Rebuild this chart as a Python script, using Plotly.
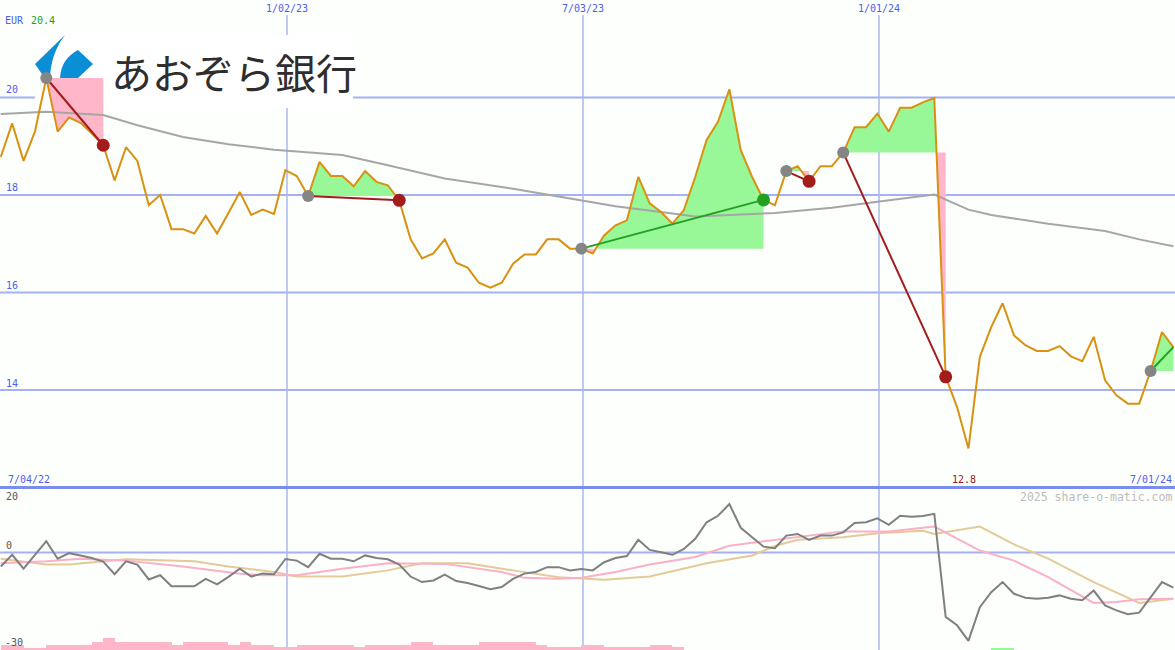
import plotly.graph_objects as go
import pandas as pd

W, H = 1175, 650

# ---------------- data (weekly, index 1..104) ----------------
BASE = pd.Timestamp("2022-07-03")
X_LEFT = pd.Timestamp("2022-07-09 12:40")
X_RIGHT = pd.Timestamp("2024-07-01 00:00")

price = [18.78, 19.47, 18.70, 19.30, 20.40, 19.30, 19.59, 19.48, 19.26, 19.02,
         18.30, 18.98, 18.70, 17.79, 18.00, 17.30, 17.30, 17.21, 17.57, 17.21,
         17.63, 18.06, 17.59, 17.70, 17.61, 18.51, 18.39, 17.98, 18.68, 18.39,
         18.39, 18.18, 18.49, 18.27, 18.20, 17.89, 17.09, 16.70, 16.80, 17.09,
         16.61, 16.51, 16.20, 16.10, 16.20, 16.59, 16.78, 16.78, 17.09, 17.09,
         16.90, 16.90, 16.80, 17.17, 17.38, 17.48, 18.37, 17.83, 17.65, 17.41,
         17.69, 18.37, 19.13, 19.50, 20.17, 18.92, 18.37, 17.90, 17.79, 18.49,
         18.59, 18.28, 18.59, 18.59, 18.87, 19.39, 19.39, 19.67, 19.30, 19.79,
         19.79, 19.90, 19.99, 14.27, 13.65, 12.80, 14.68, 15.29, 15.78, 15.12,
         14.92, 14.80, 14.80, 14.90, 14.69, 14.59, 15.09, 14.20, 13.89, 13.72,
         13.72, 14.39, 15.19, 14.88]

ma_idx = [1, 5, 10, 13, 17, 21, 25, 31, 35, 40, 46, 51, 55, 60, 62, 69, 74, 78,
          83, 86, 88, 93, 98, 101, 104]
ma_val = [19.66, 19.71, 19.64, 19.43, 19.19, 19.04, 18.93, 18.82, 18.61, 18.34,
          18.13, 17.93, 17.77, 17.62, 17.56, 17.63, 17.74, 17.86, 18.01, 17.70,
          17.59, 17.41, 17.26, 17.09, 16.95]

osc = [-4.3, -0.7, -5.0, -0.9, 3.5, -1.9, -0.2, -0.9, -1.7, -2.8,
       -6.7, -2.7, -3.7, -8.3, -7.0, -10.4, -10.3, -10.4, -8.1, -9.8,
       -7.5, -5.0, -7.4, -6.5, -6.7, -2.0, -2.5, -4.5, -0.4, -1.9,
       -1.9, -2.7, -0.9, -1.7, -2.1, -3.7, -7.4, -9.1, -8.6, -6.8,
       -8.8, -9.4, -10.3, -11.3, -10.6, -8.1, -6.5, -6.0, -4.5, -4.5,
       -5.5, -5.1, -5.5, -3.0, -1.7, -1.1, 3.9, 0.8, 0.1, -0.7,
       1.1, 4.2, 9.3, 11.3, 14.9, 7.6, 4.7, 1.8, 1.3, 5.2,
       5.7, 3.9, 5.2, 5.2, 6.2, 9.1, 9.3, 10.5, 8.5, 11.3,
       11.0, 11.2, 11.9, -19.8, -22.4, -27.2, -16.8, -12.2, -9.1, -12.7,
       -13.9, -14.2, -13.9, -13.2, -14.2, -14.7, -11.7, -16.3, -17.8, -19.0,
       -18.5, -13.7, -9.1, -10.8]

pk_idx = [1, 5, 8, 12, 17, 22, 24, 27, 31, 35, 40, 45, 47, 50, 52, 55, 58, 62,
          65, 69, 72, 75, 79, 83, 87, 90, 93, 97, 99, 101, 104]
pk_val = [-3.3, -2.7, -1.9, -2.5, -4.3, -6.5, -7.0, -7.0, -5.0, -3.3, -3.5, -6.0,
          -7.8, -8.1, -7.8, -6.0, -3.7, -1.4, 2.1, 3.9, 5.2, 6.5, 6.5, 8.0, 0.6,
          -2.5, -7.6, -15.5, -15.2, -14.4, -14.2]

tn_idx = [1, 5, 7, 12, 18, 21, 25, 27, 31, 35, 38, 42, 46, 50, 54, 58, 63, 67,
          69, 71, 75, 78, 82, 83, 87, 90, 93, 97, 101, 104]
tn_val = [-1.9, -3.7, -3.7, -2.1, -2.7, -4.3, -6.0, -7.4, -7.4, -5.5, -3.3, -3.3,
          -5.5, -7.6, -8.4, -7.4, -3.3, -0.9, 2.0, 3.9, 4.7, 5.9, 6.7, 5.7, 8.0,
          2.5, -1.9, -9.1, -15.5, -14.2]

bar_idx = list(range(1, 61))
bar_val = [1.75, 1.75, 0.83, 0.83, 1.84, 1.84, 1.84, 1.84, 2.76, 3.77,
           2.76, 2.76, 2.76, 2.76, 2.76, 1.84, 2.76, 2.76, 2.76, 2.76,
           1.84, 2.76, 1.84, 1.84, 1.0, 1.0, 1.84, 1.84, 1.84, 1.84,
           1.84, 1.0, 1.84, 1.84, 1.84, 1.84, 2.76, 2.76, 1.84, 1.84,
           1.84, 1.84, 2.76, 2.76, 2.76, 2.76, 2.76, 1.84, 1.0, 1.0,
           1.0, 1.84, 1.84, 1.0, 1.0, 1.0, 1.0, 1.84, 1.84, 1.0]
gbar_idx = [88, 89]
gbar_val = [0.7, 0.7]

trade_entry = [5, 28, 52, 70, 75, 102]
trade_exit = [10, 36, 68, 72, 84, 104]
trade_closed = [True, True, True, True, True, False]

main_grid = [14, 16, 18, 20]
date_ticks = ["2023-01-02", "2023-07-03", "2024-01-01"]
date_labels = ["1/02/23", "7/03/23", "1/01/24"]

# ---------------- colours ----------------
BG = "#fcfffc"
ORANGE = "#d99111"
MA_GRAY = "#a6a6a6"
GREEN_FILL = "#98f898"
PINK_FILL = "#ffb6c9"
RED = "#a21c1c"
GREEN = "#22a022"
GRID = "#a4b2f2"
BLUE_TXT = "#4c5ef2"
MONO = "DejaVu Sans Mono"


def wk(t):
    return BASE + pd.Timedelta(days=7 * t)


def pxp(x):
    return x / W


def pyp(y):
    return 1 - y / H


fig = go.Figure()
WEEK_MS = 7 * 24 * 3600 * 1000

# lower panel bars
fig.add_trace(go.Bar(x=[wk(j + 0.5) for j in bar_idx], y=bar_val, base=-30,
                     width=[WEEK_MS] * len(bar_idx), marker=dict(color=PINK_FILL, line=dict(width=0)),
                     yaxis="y2", hoverinfo="skip"))
fig.add_trace(go.Bar(x=[wk(j + 0.5) for j in gbar_idx], y=gbar_val, base=-30,
                     width=[WEEK_MS] * len(gbar_idx), marker=dict(color=GREEN_FILL, line=dict(width=0)),
                     yaxis="y2", hoverinfo="skip"))

# lower panel lines
fig.add_trace(go.Scatter(x=[wk(i) for i in tn_idx], y=tn_val, mode="lines",
                         line=dict(color="#e4ca98", width=2), yaxis="y2"))
fig.add_trace(go.Scatter(x=[wk(i) for i in pk_idx], y=pk_val, mode="lines",
                         line=dict(color="#fbb0c6", width=2), yaxis="y2"))
fig.add_trace(go.Scatter(x=[wk(i) for i in range(1, len(osc) + 1)], y=osc, mode="lines",
                         line=dict(color="#808080", width=2), yaxis="y2"))

# trade fills
for a, b in zip(trade_entry, trade_exit):
    e = price[a - 1]
    pts = []
    for i in range(a, b + 1):
        v = price[i - 1]
        if i > a:
            pv = price[i - 2]
            if (pv - e) * (v - e) < 0:
                t = (e - pv) / (v - pv)
                pts.append((i - 1 + t, e))
        pts.append((i, v))
    ts = [p[0] for p in pts]
    xs = [wk(t) for t in ts] + [wk(t) for t in reversed(ts)]
    up = [max(p[1], e) for p in pts] + [e] * len(ts)
    dn = [min(p[1], e) for p in pts] + [e] * len(ts)
    fig.add_trace(go.Scatter(x=xs, y=up, fill="toself", fillcolor=GREEN_FILL,
                             mode="lines", line=dict(width=0), hoverinfo="skip"))
    fig.add_trace(go.Scatter(x=xs, y=dn, fill="toself", fillcolor=PINK_FILL,
                             mode="lines", line=dict(width=0), hoverinfo="skip"))

# moving average and price
fig.add_trace(go.Scatter(x=[wk(i) for i in ma_idx], y=ma_val, mode="lines",
                         line=dict(color=MA_GRAY, width=2)))
fig.add_trace(go.Scatter(x=[wk(i) for i in range(1, len(price) + 1)], y=price, mode="lines",
                         line=dict(color=ORANGE, width=2)))

# trade lines and dots
for a, b, closed in zip(trade_entry, trade_exit, trade_closed):
    ea, eb = price[a - 1], price[b - 1]
    col = GREEN if eb > ea else RED
    fig.add_trace(go.Scatter(x=[wk(a), wk(b)], y=[ea, eb], mode="lines",
                             line=dict(color=col, width=2)))
    fig.add_trace(go.Scatter(x=[wk(a)], y=[ea], mode="markers",
                             marker=dict(color="#858585", size=12)))
    if closed:
        fig.add_trace(go.Scatter(x=[wk(b)], y=[eb], mode="markers",
                                 marker=dict(color=col, size=13)))

# ---------------- shapes ----------------
shapes = []
for v in main_grid:
    shapes.append(dict(type="line", xref="paper", yref="y", x0=0, x1=1, y0=v, y1=v,
                       line=dict(color=GRID, width=2), layer="below"))
shapes.append(dict(type="line", xref="paper", yref="y2", x0=0, x1=1, y0=0, y1=0,
                   line=dict(color=GRID, width=2), layer="below"))
for d in date_ticks:
    shapes.append(dict(type="line", xref="x", yref="paper", x0=d, x1=d, y0=0, y1=pyp(15),
                       line=dict(color="#aab8f2", width=1.5), layer="below"))
shapes.append(dict(type="line", xref="paper", yref="paper", x0=0, x1=1, y0=pyp(487.5), y1=pyp(487.5),
                   line=dict(color="#7b8cf0", width=3), layer="below"))
# logo background
shapes.append(dict(type="rect", xref="paper", yref="paper", x0=pxp(35), x1=pxp(353),
                   y0=pyp(108), y1=pyp(35), fillcolor="#ffffff", line=dict(width=0), layer="below"))


def path(cmds):
    out = []
    for c in cmds:
        if isinstance(c, str):
            out.append(c)
        else:
            out.append("%.5f,%.5f" % (pxp(c[0]), pyp(c[1])))
    return " ".join(out)


logo_left = path(["M", (65, 35), "L", (35, 64), "L", (44, 77), "L", (50, 78),
                  "Q", (51, 53), (65, 35), "Z"])
logo_right = path(["M", (78, 50), "L", (93, 64), "L", (78, 78), "L", (60, 78),
                   "Q", (61, 59), (78, 50), "Z"])
for p in (logo_left, logo_right):
    shapes.append(dict(type="path", xref="paper", yref="paper", path=p,
                       fillcolor="#0a8fd6", line=dict(width=0), layer="below"))

# ---------------- annotations ----------------
ann = []


def txt(text, x, y, color, size=10, xanchor="left", family=MONO, xref="paper"):
    ann.append(dict(text=text, x=x, y=pyp(y), xref=xref, yref="paper", xanchor=xanchor,
                    yanchor="middle", showarrow=False, borderpad=0,
                    font=dict(family=family, size=size, color=color)))


txt("EUR", pxp(4), 20, BLUE_TXT)
txt("20.4", pxp(30), 20, "#22a022")
for d, lab in zip(date_ticks, date_labels):
    txt(lab, d, 8, BLUE_TXT, xanchor="center", xref="x")
for v, yy in zip(main_grid, [383, 286, 188, 90]):
    txt(str(v), pxp(5), yy, BLUE_TXT)
txt("7/04/22", pxp(7), 479, BLUE_TXT)
txt("12.8", pxp(964), 479, "#a01818", xanchor="center")
txt("7/01/24", pxp(1173), 479, BLUE_TXT, xanchor="right")
txt("2025 share-o-matic.com", pxp(1173), 497, "#bcbcbc", size=11.5, xanchor="right")
txt("20", pxp(5), 496, "#555555")
txt("0", pxp(5), 545, "#555555")
txt("-30", pxp(4), 642, "#555555")
txt("あおぞら銀行", pxp(110), 71, "#2e2e2e", size=41, family="Noto Sans CJK JP")

fig.update_layout(
    width=W, height=H, margin=dict(l=0, r=0, t=0, b=0),
    paper_bgcolor=BG, plot_bgcolor=BG, showlegend=False,
    barmode="overlay", bargap=0,
    xaxis=dict(type="date", range=[X_LEFT, X_RIGHT], visible=False, domain=[0, 1]),
    yaxis=dict(range=[12, 22], visible=False, domain=[1 - 487.5 / H, 1]),
    yaxis2=dict(range=[-30, 20], visible=False, domain=[0, 1 - 487.5 / H], anchor="x"),
    shapes=shapes, annotations=ann,
)

fig.write_html("out.html", config={"displayModeBar": False},
               post_script="document.body.style.margin='0';document.body.style.overflow='hidden';")
